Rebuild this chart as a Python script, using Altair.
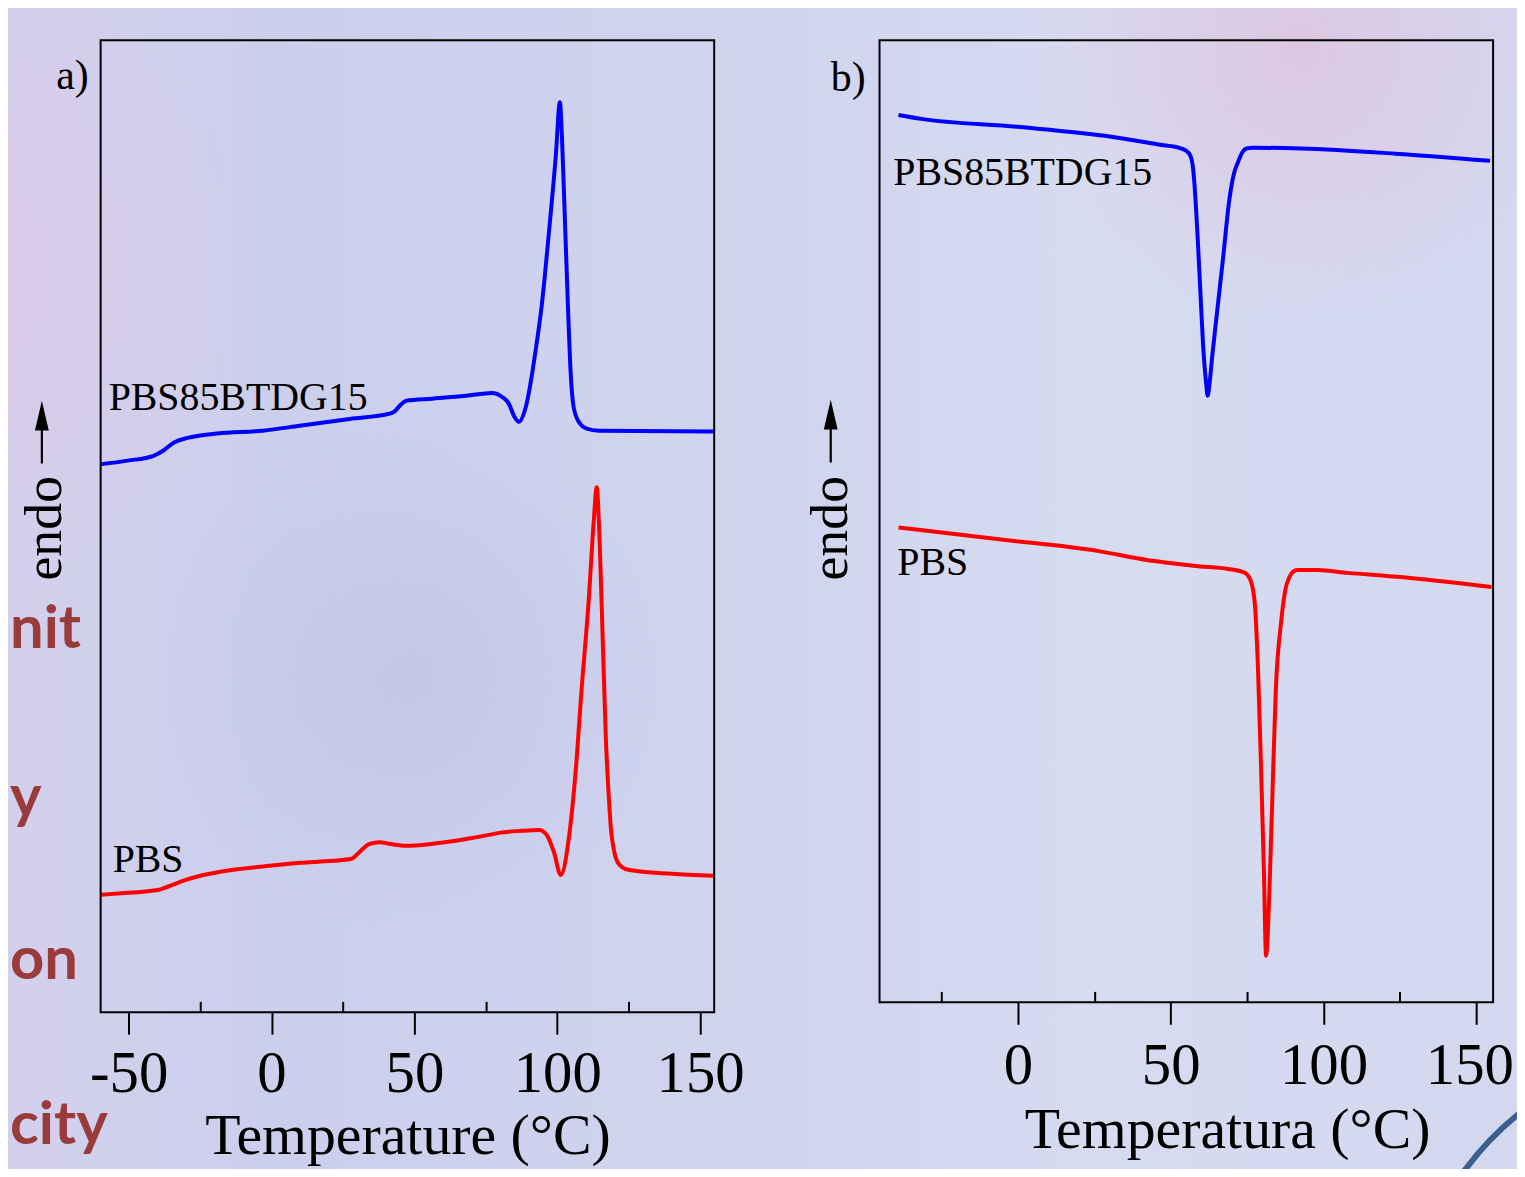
import altair as alt
import pandas as pd

# ---------------- data ----------------
# panel a) heating scans (T in °C, heat flow in arbitrary units)
a_blue_T = [-59.8, -50.3, -41.3, -37.8, -34.3, -29.4, -19.0, -3.0, 9.9, 27.4, 41.3, 43.0, 44.8, 47.2,
            56.3, 68.1, 77.2, 80.7, 83.1, 84.8, 86.6, 89.0, 92.5, 94.6, 97.0, 99.5, 100.9, 101.6,
            102.6, 103.7, 104.7, 105.7, 107.5, 110.3, 114.5, 154.5]
a_blue_V = [13.53, 13.62, 13.74, 13.87, 14.06, 14.18, 14.29, 14.36, 14.48, 14.65, 14.78, 14.83, 14.97,
            15.10, 15.15, 15.22, 15.29, 15.19, 15.02, 14.73, 14.58, 14.95, 16.38, 17.48, 19.20, 21.17,
            22.47, 21.66, 19.70, 17.48, 15.76, 14.95, 14.58, 14.41, 14.36, 14.34]
a_red_T = [-59.8, -54.5, -39.9, -36.4, -30.8, -23.9, -13.4, -1.6, 9.9, 21.4, 28.0, 30.8, 34.3, 37.8,
           41.3, 47.2, 56.3, 68.1, 76.1, 79.6, 87.6, 93.6, 96.3, 98.8, 101.2, 104.0, 106.4, 108.5,
           111.0, 112.7, 113.8, 114.8, 115.9, 117.0, 118.2, 118.8, 119.5, 120.2, 121.1, 122.6, 124.9,
           139.9, 154.5]
a_red_V = [2.90, 2.93, 3.02, 3.10, 3.25, 3.39, 3.52, 3.61, 3.69, 3.74, 3.79, 3.96, 4.16, 4.20, 4.16,
           4.11, 4.16, 4.28, 4.38, 4.43, 4.48, 4.50, 4.38, 3.96, 3.39, 4.28, 5.93, 7.97, 10.18, 12.07,
           12.96, 11.65, 9.20, 6.74, 5.11, 4.50, 4.13, 3.88, 3.71, 3.59, 3.52, 3.42, 3.37]

# panel b) cooling scans
b_blue_T = [-39.1, -31.6, -0.3, 30.6, 46.0, 53.5, 55.4, 56.4, 57.1, 57.7, 58.7, 59.7, 60.6, 61.5, 62.1,
            62.8, 63.6, 65.2, 67.2, 69.1, 70.7, 72.1, 73.4, 74.7, 76.9, 92.6, 123.6, 154.5]
b_blue_V = [23.02, 22.92, 22.72, 22.47, 22.27, 22.17, 22.09, 21.99, 21.79, 21.34, 20.08, 18.56, 17.18,
            16.30, 15.92, 16.30, 16.93, 18.06, 19.45, 20.83, 21.54, 21.84, 22.07, 22.17, 22.19, 22.17,
            22.04, 21.86]
b_red_T = [-39.1, -6.2, 26.4, 42.7, 47.6, 59.0, 68.8, 74.3, 76.3, 77.6, 78.6, 79.6, 80.5, 81.2, 82.5,
           83.5, 84.4, 86.1, 87.7, 88.7, 89.9, 91.5, 98.1, 107.9, 124.2, 155.0]
b_red_V = [12.59, 12.29, 11.99, 11.76, 11.71, 11.61, 11.54, 11.44, 11.21, 10.58, 8.92, 6.40, 3.88,
           1.76, 3.88, 6.40, 8.49, 10.18, 11.08, 11.31, 11.46, 11.51, 11.51, 11.44, 11.34, 11.08]

series_names = ["PBS85BTDG15", "PBS"]
series_colors = ["#0000ff", "#ff0000"]

# curve labels (left edge T, baseline value)
a_label_T = [-57.0, -55.6]
a_label_V = [14.88, 3.47]
b_label_T = [-40.8, -39.5]
b_label_V = [21.26, 11.39]

a_major = [-50, 0, 50, 100, 150]
a_minor = [-25, 25, 75, 125]
b_major = [0, 50, 100, 150]
b_minor = [-25, 25, 75, 125]
a_yticks = list(range(1, 24))
b_yticks = [10, 20]

panel_tags = ["a)", "b)"]
x_titles = ["Temperature (°C)", "Temperatura (°C)"]
y_word = "endo"
slide_words = ["nit", "y", "on", "city"]

SERIF = "Liberation Serif"
W = 616
ONE = pd.DataFrame({"k": [0]})
ARROW = "M0,-1L0.22,-0.05L0.035,-0.05L0.035,1L-0.035,1L-0.035,-0.05L-0.22,-0.05Z"


def lin_grad(stops, vertical=True):
    return {"gradient": "linear", "x1": 0, "y1": 0, "x2": 0 if vertical else 1, "y2": 1 if vertical else 0,
            "stops": [{"offset": o, "color": c} for o, c in stops]}


def rad_grad(color_in, color_out, cx, cy, r):
    return {"gradient": "radial", "x1": cx, "y1": cy, "x2": cx, "y2": cy, "r1": 0, "r2": r,
            "stops": [{"offset": 0, "color": color_in}, {"offset": 1, "color": color_out}]}


def panel(bT, bV, rT, rV, lT, lV, xdom, ydom, H, major, minor, yticks, ytl, tag, xtitle,
          title_x, title_y, label_pad, label_off, bg_box, bg_fill, blobs, endo_xy, arrow_xy, tag_xy,
          extras):
    df = pd.DataFrame({
        "T": bT + rT,
        "V": bV + rV,
        "series": [series_names[0]] * len(bT) + [series_names[1]] * len(rT),
    })
    xs = alt.Scale(domain=xdom, nice=False, zero=False)
    ys = alt.Scale(domain=ydom, nice=False, zero=False)

    layers = []
    x0, x1, y0, y1 = bg_box
    layers.append(alt.Chart(ONE).mark_rect(fill=bg_fill).encode(
        x=alt.value(x0), x2=alt.value(x1), y=alt.value(y0), y2=alt.value(y1)))
    for (bx0, bx1, by0, by1, g) in blobs:
        layers.append(alt.Chart(ONE).mark_rect(fill=g).encode(
            x=alt.value(bx0), x2=alt.value(bx1), y=alt.value(by0), y2=alt.value(by1)))

    major_axis = alt.Axis(
        orient="bottom", values=major, tickSize=22, tickWidth=2, tickColor="black", domain=False,
        grid=False, labelFont=SERIF, labelFontSize=59, labelColor="black", labelPadding=label_pad,
        labelBaseline="alphabetic", labelFlush=False, labelOverlap=False, labelExpr="'' + datum.value",
        labelOffset=label_off,
        title=xtitle, titleFont=SERIF, titleFontSize=58, titleFontWeight="normal", titleColor="black",
        titleX=title_x, titleY=title_y, titleAlign="center", titleBaseline="alphabetic", zindex=2)
    y_axis = alt.Axis(orient="left", values=yticks, tickSize=ytl, tickWidth=2, tickColor="black",
                      offset=-ytl, labels=False, domain=False, grid=False, title=None, zindex=2)
    layers.append(alt.Chart(df).mark_line(strokeWidth=4, interpolate="monotone").encode(
        x=alt.X("T:Q", scale=xs, axis=major_axis),
        y=alt.Y("V:Q", scale=ys, axis=y_axis),
        color=alt.Color("series:N", scale=alt.Scale(domain=series_names, range=series_colors), legend=None),
    ))

    minor_axis = alt.Axis(orient="bottom", values=minor, tickSize=11, tickWidth=2, tickColor="black",
                          offset=-11, labels=False, domain=False, grid=False, title=None, zindex=2)
    layers.append(alt.Chart(pd.DataFrame({"T": minor})).mark_rule(opacity=0).encode(
        x=alt.X("T:Q", scale=xs, axis=minor_axis)))

    ldf = pd.DataFrame({"T": lT, "V": lV, "name": series_names})
    layers.append(alt.Chart(ldf).mark_text(font=SERIF, fontSize=40, align="left", baseline="alphabetic",
                                           color="black").encode(
        x=alt.X("T:Q", scale=xs, axis=None), y=alt.Y("V:Q", scale=ys, axis=None), text="name:N"))

    layers.append(alt.Chart(ONE).mark_rect(fill="transparent", stroke="black", strokeWidth=2).encode(
        x=alt.value(0), x2=alt.value(W), y=alt.value(0), y2=alt.value(H)))

    layers.append(alt.Chart(pd.DataFrame({"t": [y_word]})).mark_text(
        font=SERIF, fontSize=54, angle=270, align="center", baseline="alphabetic", color="black").encode(
        x=alt.value(endo_xy[0]), y=alt.value(endo_xy[1]), text="t:N"))
    layers.append(alt.Chart(ONE).mark_point(shape=ARROW, size=3969, filled=True, color="black",
                                            opacity=1, strokeWidth=0).encode(
        x=alt.value(arrow_xy[0]), y=alt.value(arrow_xy[1])))
    layers.append(alt.Chart(pd.DataFrame({"t": [tag]})).mark_text(
        font=SERIF, fontSize=42, align="right", baseline="alphabetic", color="black").encode(
        x=alt.value(tag_xy[0]), y=alt.value(tag_xy[1]), text="t:N"))
    layers.extend(extras)
    return alt.layer(*layers).resolve_axis(x="independent").properties(width=W, height=H)


# slide text fragments at the far left (left edge, baseline in panel-a pixels)
word_pos = [(-91, 610), (-91, 780), (-91, 943), (-91, 1108)]
words = []
for w, (px, py) in zip(slide_words, word_pos):
    words.append(alt.Chart(pd.DataFrame({"t": [w]})).mark_text(
        font="Lato", fontWeight="bold", fontSize=60, align="left", baseline="alphabetic",
        color="#993b3b").encode(x=alt.value(px), y=alt.value(py), text="t:N"))

arc = alt.Chart(ONE).mark_arc(color="#3b5f8e").encode(
    x=alt.value(831.7), y=alt.value(1314), radius=alt.value(306), radius2=alt.value(300),
    theta=alt.value(5.34), theta2=alt.value(5.62))

bg_a = lin_grad([(0, "#d4d0ec"), (0.35, "#cccfec"), (1, "#d0d4ee")], vertical=False)
bg_b = lin_grad([(0, "#d0d4ee"), (0.4, "#d7dbf0"), (1, "#d3d8ef")], vertical=False)
blob_a = rad_grad("rgba(220,200,232,0.85)", "rgba(220,200,232,0)", 0.25, 0.45, 0.55)
blob_a2 = rad_grad("rgba(190,196,230,0.7)", "rgba(190,196,230,0)", 0.5, 0.5, 0.5)
blob_b = rad_grad("rgba(222,196,224,0.85)", "rgba(222,196,224,0)", 0.55, 0.25, 0.55)

pa = panel(a_blue_T, a_blue_V, a_red_T, a_red_V, a_label_T, a_label_V,
           [-59.8, 154.9], [0, 24], 976, a_major, a_minor, a_yticks, 4, panel_tags[0], x_titles[0],
           308, 142, 57, 0, (-130, 690, -35, 1142), bg_a,
           [(-130, 120, -35, 560, blob_a), (60, 560, 380, 900, blob_a2)],
           (-40, 490), (-59, 393.5), (-12, 49), words)

pb = panel(b_blue_T, b_blue_V, b_red_T, b_red_V, b_label_T, b_label_V,
           [-45.3, 155.5], [0.58, 24.91], 966, b_major, b_minor, b_yticks, 3, panel_tags[1], x_titles[1],
           349, 146, 59, {"condition": {"test": "datum.value == 150", "value": -7}, "value": 0},
           (-90, 645, -38, 1139), bg_b,
           [(150, 645, -38, 300, blob_b)],
           (-33, 490), (-49, 392.5), (-14, 51), [arc])

chart = alt.hconcat(pa, pb, spacing=0).properties(
    padding={"left": -38, "top": -9, "right": -8, "bottom": -12},
    background="#d0d4ee",
).configure_view(stroke="transparent")

chart.save("out.html", embed_options={"renderer": "svg", "actions": False})
